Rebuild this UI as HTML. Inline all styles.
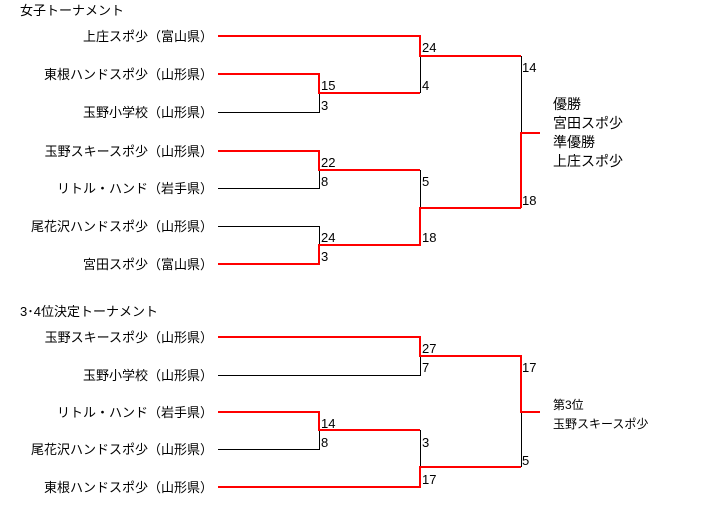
<!DOCTYPE html>
<html><head><meta charset="utf-8"><style>
html,body{margin:0;padding:0;background:#fff;}
svg{display:block;}
text{font-family:"Liberation Sans","Noto Sans CJK JP",sans-serif;font-size:13px;fill:#000;}
.l{font-size:13px;}
.r{stroke:#f00;stroke-width:2;fill:none;}
.b{stroke:#000;stroke-width:1;fill:none;}
.n{font-size:13px;}
.w{font-size:14px;}
</style></head><body>
<svg width="706" height="510" viewBox="0 0 706 510">
<text x="20" y="15">女子トーナメント</text>
<g text-anchor="end">
<text class="l" x="213" y="41">上庄スポ少（富山県）</text>
<text class="l" x="213" y="79">東根ハンドスポ少（山形県）</text>
<text class="l" x="213" y="117">玉野小学校（山形県）</text>
<text class="l" x="213" y="156">玉野スキースポ少（山形県）</text>
<text class="l" x="213" y="193">リトル・ハンド（岩手県）</text>
<text class="l" x="213" y="231">尾花沢ハンドスポ少（山形県）</text>
<text class="l" x="213" y="269">宮田スポ少（富山県）</text>
</g>
<path class="b" d="M218 112.5H319.5V93 M218 188.5H319.5V170 M218 226.5H319.5V245 M420.5 56V93 M420.5 170V208 M521.5 56V133"/>
<path class="r" d="M218 36H420V56H521 M218 74H319V93H420 M218 151H319V170H420 M218 264H319V245H420V208H521 M521 208V133H540"/>
<text class="n" x="422" y="52">24</text>
<text class="n" x="422" y="90">4</text>
<text class="n" x="321" y="90">15</text>
<text class="n" x="321" y="110">3</text>
<text class="n" x="321" y="167">22</text>
<text class="n" x="321" y="186">8</text>
<text class="n" x="422" y="186">5</text>
<text class="n" x="321" y="242">24</text>
<text class="n" x="321" y="261">3</text>
<text class="n" x="422" y="242">18</text>
<text class="n" x="522" y="72">14</text>
<text class="n" x="522" y="205">18</text>
<text class="w" x="553" y="109">優勝</text>
<text class="w" x="553" y="128">宮田スポ少</text>
<text class="w" x="553" y="147">準優勝</text>
<text class="w" x="553" y="166">上庄スポ少</text>

<text x="20" y="316">3･4位決定トーナメント</text>
<g text-anchor="end">
<text class="l" x="213" y="342">玉野スキースポ少（山形県）</text>
<text class="l" x="213" y="380">玉野小学校（山形県）</text>
<text class="l" x="213" y="417">リトル・ハンド（岩手県）</text>
<text class="l" x="213" y="454">尾花沢ハンドスポ少（山形県）</text>
<text class="l" x="213" y="492">東根ハンドスポ少（山形県）</text>
</g>
<path class="b" d="M218 375.5H420.5V356 M218 449.5H319.5V430 M420.5 430V467 M521.5 412V467"/>
<path class="r" d="M218 337H420V356H521V412H540 M218 412H319V430H420 M218 487H420V467H521"/>
<text class="n" x="422" y="353">27</text>
<text class="n" x="422" y="372">7</text>
<text class="n" x="522" y="372">17</text>
<text class="n" x="321" y="428">14</text>
<text class="n" x="321" y="447">8</text>
<text class="n" x="422" y="447">3</text>
<text class="n" x="422" y="484">17</text>
<text class="n" x="522" y="465">5</text>
<text x="553" y="409" style="font-size:12px">第3位</text>
<text x="553" y="428" style="font-size:12px">玉野スキースポ少</text>
</svg>
</body></html>
